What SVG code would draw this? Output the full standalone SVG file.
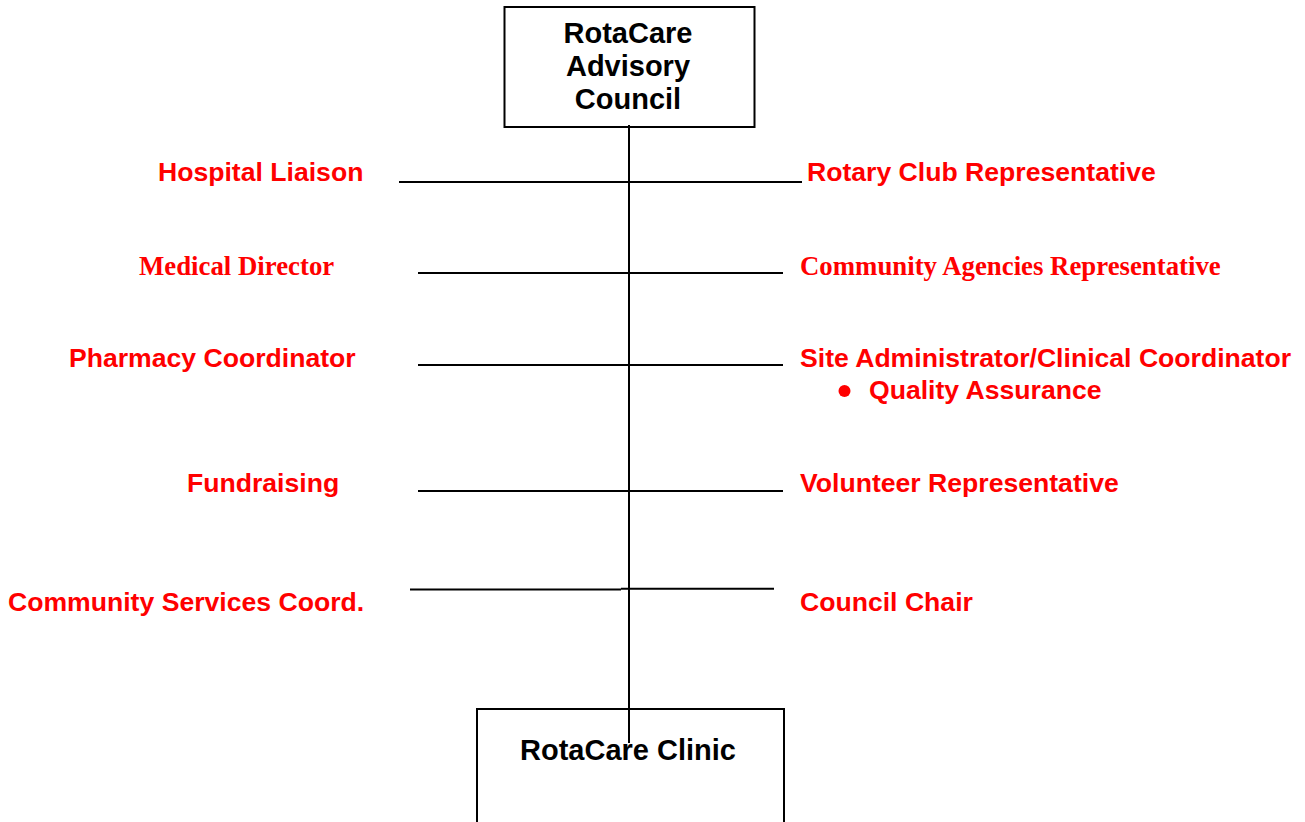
<svg xmlns="http://www.w3.org/2000/svg" width="1305" height="822" viewBox="0 0 1305 822">
  <style>
    .box { fill: #ffffff; stroke: #000000; stroke-width: 2; }
    .title { font-family: "Liberation Sans", Arial, sans-serif; font-weight: bold; font-size: 29px; fill: #000000; text-anchor: middle; }
    .lbl { font-family: "Liberation Sans", Arial, sans-serif; font-weight: bold; font-size: 26.6px; fill: #ff0000; }
    .lbl-serif { font-family: "Liberation Serif", "Times New Roman", serif; font-weight: bold; font-size: 26.8px; fill: #ff0000; }
    .link { stroke: #000000; stroke-width: 2; fill: none; }
  </style>
  <rect width="1305" height="822" fill="#ffffff"/>

  <!-- Advisory council box -->
  <g id="advisory-council">
    <rect class="box" x="504.5" y="7" width="250" height="120"/>
    <text class="title" x="628" y="43">RotaCare</text>
    <text class="title" x="628" y="76">Advisory</text>
    <text class="title" x="628" y="109">Council</text>
  </g>

  <!-- Clinic box (runs off the bottom edge) -->
  <g id="clinic">
    <rect class="box" x="477" y="709" width="307" height="130"/>
    <text class="title" x="628" y="760">RotaCare Clinic</text>
  </g>

  <!-- Trunk and member branches -->
  <g id="connectors">
    <line class="link" x1="629" y1="125" x2="629" y2="743"/>
    <line class="link" x1="399" y1="182" x2="802" y2="182"/>
    <line class="link" x1="418" y1="273" x2="783" y2="273"/>
    <line class="link" x1="418" y1="365" x2="783" y2="365"/>
    <line class="link" x1="418" y1="491" x2="783" y2="491"/>
    <line class="link" x1="410" y1="589.5" x2="621" y2="589.5"/>
    <line class="link" x1="621" y1="588.7" x2="774" y2="588.7"/>
  </g>

  <!-- Left-hand members -->
  <g id="hospital-liaison"><text class="lbl" x="158" y="181">Hospital Liaison</text></g>
  <g id="medical-director"><text class="lbl-serif" x="139" y="275">Medical Director</text></g>
  <g id="pharmacy-coordinator"><text class="lbl" x="69" y="367">Pharmacy Coordinator</text></g>
  <g id="fundraising"><text class="lbl" x="187" y="492">Fundraising</text></g>
  <g id="community-services"><text class="lbl" x="8" y="611">Community Services Coord.</text></g>

  <!-- Right-hand members -->
  <g id="rotary-club"><text class="lbl" x="807" y="181">Rotary Club Representative</text></g>
  <g id="community-agencies"><text class="lbl-serif" x="800" y="275">Community Agencies Representative</text></g>
  <g id="site-administrator">
    <text class="lbl" x="800" y="367">Site Administrator/Clinical Coordinator</text>
    <circle cx="844.5" cy="391" r="6" fill="#ff0000"/>
    <text class="lbl" x="869" y="399">Quality Assurance</text>
  </g>
  <g id="volunteer-rep"><text class="lbl" x="800" y="492">Volunteer Representative</text></g>
  <g id="council-chair"><text class="lbl" x="800" y="611">Council Chair</text></g>
</svg>
